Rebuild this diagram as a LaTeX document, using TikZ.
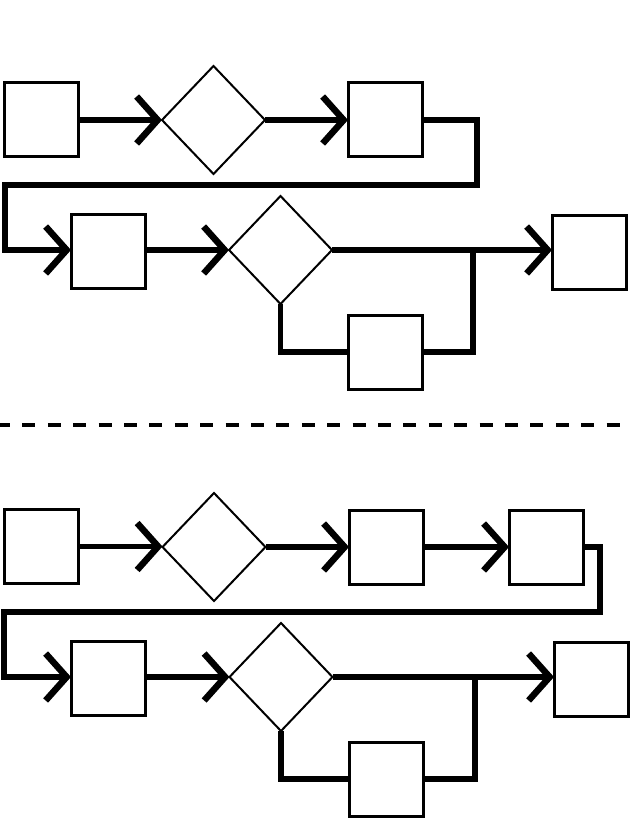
\documentclass[tikz,border=0pt]{standalone}
\usetikzlibrary{arrows.meta,shapes.geometric}
\begin{document}
\begin{tikzpicture}[x=1pt,y=-1pt,
  boxnode/.style={draw,line width=3pt,minimum size=74pt,inner sep=0pt,outer sep=0pt},
  decnode/.style={draw,diamond,line width=2pt,minimum width=103pt,minimum height=108pt,inner sep=0pt,outer sep=0pt},
  conn/.style={line width=5.5pt,line join=miter},
  arr/.style={conn,-{Straight Barb[length=21pt,width=47pt,line width=6.5pt]}}]
\useasboundingbox (0,0) rectangle (631,821);
% ---------- top ----------
\node[boxnode] (a1) at (41.5,120) {};
\node[decnode] (d1) at (213.5,120) {};
\node[boxnode] (b1) at (385,120) {};
\node[boxnode] (c1) at (108,251) {};
\node[decnode] (d2) at (280.5,250) {};
\node[boxnode] (e1) at (589,252) {};
\node[boxnode] (f1) at (385,352) {};
\coordinate (t1) at (477,185);
\coordinate (t2) at (5,185);
\coordinate (j1) at (473,250);
\draw[arr] (a1.east) -- (d1.west);
\draw[arr] (d1.east) -- (b1.west);
\draw[arr] (b1.east) -| (t1) -- (t2) |- (c1.west |- d2.west);
\draw[arr] (d2.west -| c1.east) -- (d2.west);
\draw[arr] (d2.east) -- (d2.east -| e1.west);
\draw[conn] (d2.south) |- (f1.west);
\draw[conn] (f1.east) -| (j1);
% ---------- separator ----------
\coordinate (s1) at (0,425);
\coordinate (s2) at (622,425);
\draw[line width=3.2pt,dash pattern=on 13pt off 12.4pt,dash phase=3pt] (s1) -- (s2);
% ---------- bottom ----------
\node[boxnode] (a2) at (41.5,546.5) {};
\node[decnode] (d3) at (214,547) {};
\node[boxnode] (b2) at (386,547) {};
\node[boxnode] (g2) at (546,547) {};
\node[boxnode] (c2) at (108,678) {};
\node[decnode] (d4) at (281,677) {};
\node[boxnode] (e2) at (591,679) {};
\node[boxnode] (f2) at (386,779) {};
\coordinate (u1) at (600,612);
\coordinate (u2) at (4,612);
\coordinate (j2) at (475,677);
\draw[arr] (a2.east) -- (a2.east -| d3.west);
\draw[arr] (d3.east) -- (d3.east -| b2.west);
\draw[arr] (b2.east) -- (g2.west);
\draw[arr] (g2.east) -| (u1) -- (u2) |- (c2.west |- d4.west);
\draw[arr] (d4.west -| c2.east) -- (d4.west);
\draw[arr] (d4.east) -- (d4.east -| e2.west);
\draw[conn] (d4.south) |- (f2.west);
\draw[conn] (f2.east) -| (j2);
\end{tikzpicture}
\end{document}
